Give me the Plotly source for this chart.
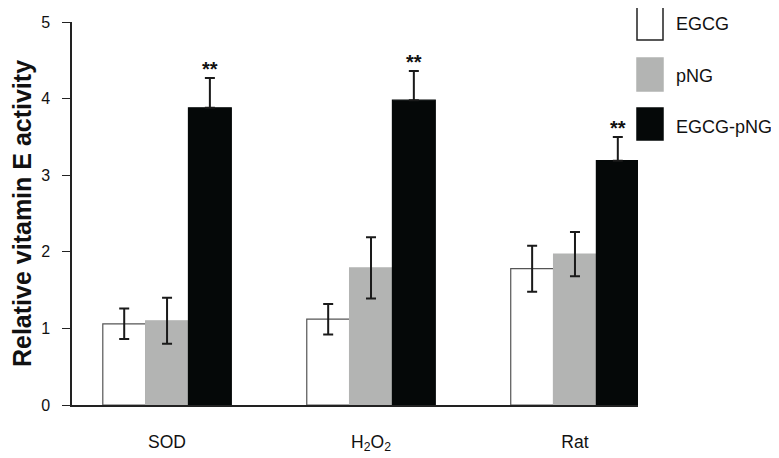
import plotly.graph_objects as go

groups = ["SOD", "H<sub>2</sub>O<sub>2</sub>", "Rat"]
series = ["EGCG", "pNG", "EGCG-pNG"]
egcg = [1.06, 1.12, 1.78]
egcg_err = [0.20, 0.20, 0.30]
png = [1.10, 1.79, 1.97]
png_err = [0.30, 0.40, 0.29]
egcg_png = [3.88, 3.98, 3.19]
egcg_png_err = [0.39, 0.38, 0.31]
y_ticks = [0, 1, 2, 3, 4, 5]

x = [0, 1, 2]
fills = ["#ffffff", "#b3b4b3", "#050808"]
lines = ["#555555", "#b3b4b3", "#050808"]
vals = [egcg, png, egcg_png]
errs = [egcg_err, png_err, egcg_png_err]
# lower whiskers of the black bars are hidden inside the black fill in the reference
minus_visible = [True, True, False]

fig = go.Figure()
for name, v, e, f, lc, mv in zip(series, vals, errs, fills, lines, minus_visible):
    fig.add_trace(go.Bar(
        x=x, y=v, name=name,
        marker=dict(color=f, line=dict(color=lc, width=1.2)),
        error_y=dict(type="data", array=e, arrayminus=e if mv else [0] * len(e),
                     symmetric=False, visible=True, color="#1a1a1a", thickness=2, width=5),
        showlegend=False,
    ))

# significance markers above black bars
bw = 0.21
for i in range(3):
    fig.add_annotation(x=x[i] + bw, y=egcg_png[i] + egcg_png_err[i], text="<b>**</b>",
                       showarrow=False, yanchor="bottom", yshift=-4,
                       font=dict(family="Arial, Liberation Sans", size=20, color="#111"))

# legend drawn manually (page coordinates relative to the plot area 72..638 x 22..405)
leg_y = [(7, 40), (58, 91), (108, 140)]
txt_y = [24, 76, 127]
for (y0, y1), ty, name, f, lc in zip(leg_y, txt_y, series, fills, ["#222222", "#b3b4b3", "#050808"]):
    fig.add_shape(type="rect", xref="paper", yref="paper",
                  x0=(637 - 72) / 566, x1=(663 - 72) / 566,
                  y0=(405 - y1) / 383, y1=(405 - y0) / 383,
                  fillcolor=f, line=dict(color=lc, width=1.5))
    fig.add_annotation(xref="paper", yref="paper", x=(674 - 72) / 566,
                       y=(405 - ty) / 383, text=name, showarrow=False,
                       xanchor="left", yanchor="middle",
                       font=dict(family="Arial, Liberation Sans", size=18, color="#111"))

# the page adds an 8px body margin, so the figure is shrunk by that offset
fig.update_layout(
    width=771, height=450,
    margin=dict(l=64, r=141, t=14, b=53),
    plot_bgcolor="white", paper_bgcolor="white",
    barmode="group", bargap=0.37, bargroupgap=0,
    font=dict(family="Arial, Liberation Sans", size=16, color="#111"),
    xaxis=dict(range=[-0.466, 2.309], tickvals=x, ticktext=groups, showline=True,
               linecolor="#222", linewidth=1.5, ticks="", showgrid=False, zeroline=False,
               tickfont=dict(size=17.5), ticklabelstandoff=20, automargin=False),
    yaxis=dict(range=[0, 5], tickvals=y_ticks, showline=True, linecolor="#222", linewidth=1.5,
               ticks="outside", ticklen=8, tickcolor="#222", showgrid=False, zeroline=False,
               title=dict(text="<b>Relative vitamin E activity</b>", font=dict(size=25), standoff=4),
               tickfont=dict(size=16), ticklabelstandoff=9, automargin=False),
)

fig.write_html("out.html")
